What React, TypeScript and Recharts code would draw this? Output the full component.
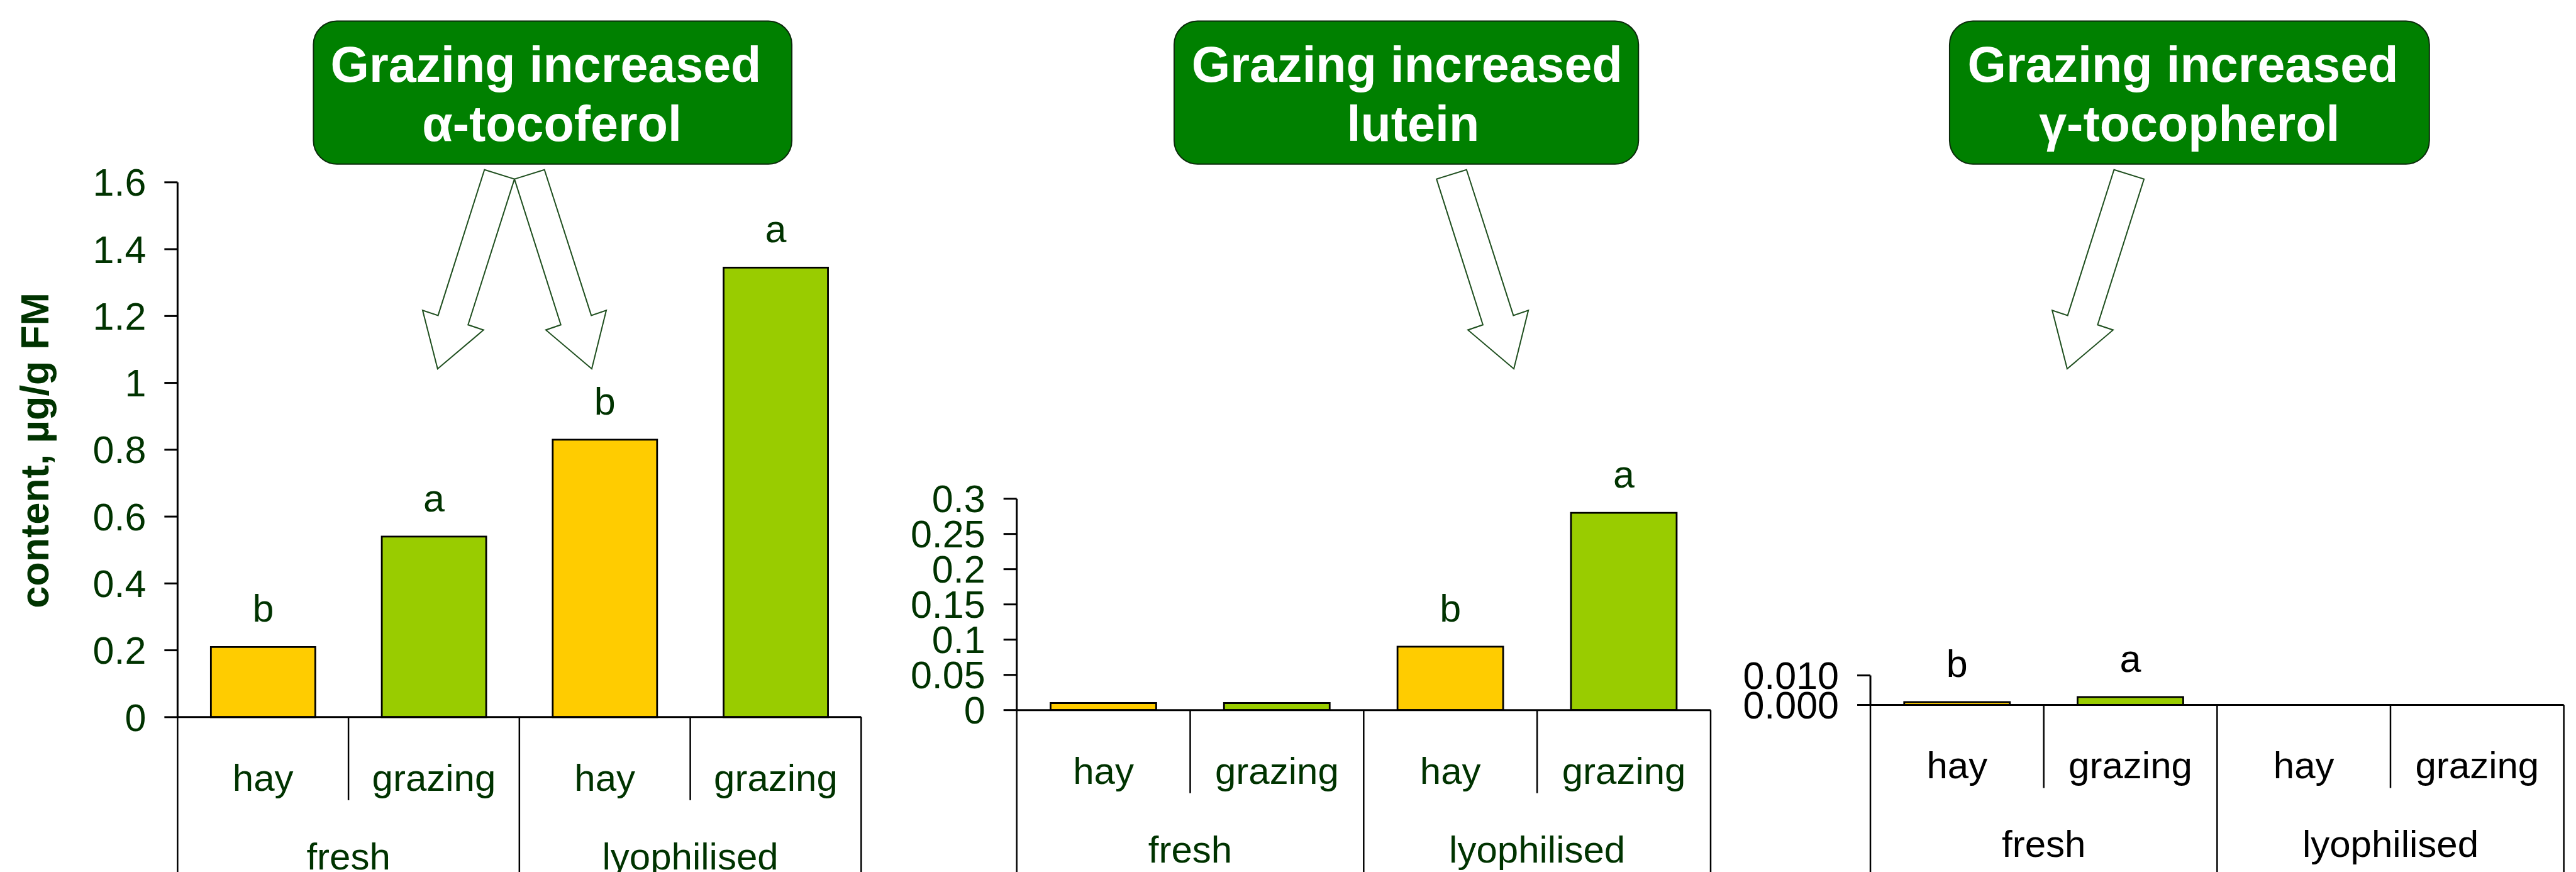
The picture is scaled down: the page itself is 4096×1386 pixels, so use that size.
import React from 'react'
import { BarChart, Bar, XAxis, YAxis, LabelList, Cell } from 'recharts'

// ── Data ──────────────────────────────────────────────────────────────────────

const treatments = ['hay', 'grazing', 'hay', 'grazing']
const states = ['fresh', 'fresh', 'lyophilised', 'lyophilised']

const tocoferolValues = [0.21, 0.54, 0.83, 1.345]
const tocoferolLetters = ['b', 'a', 'b', 'a']
const tocoferolTicks = [0, 0.2, 0.4, 0.6, 0.8, 1, 1.2, 1.4, 1.6]

const luteinValues = [0.01, 0.01, 0.09, 0.28]
const luteinLetters = ['', '', 'b', 'a']
const luteinTicks = [0, 0.05, 0.1, 0.15, 0.2, 0.25, 0.3]

const gammaValues = [0.001, 0.0027, null, null]
const gammaLetters = ['b', 'a', '', '']
const gammaTicks = [0, 0.01]

const titleLines = [
  ['Grazing increased', 'α-tocoferol'],
  ['Grazing increased', 'lutein'],
  ['Grazing increased', 'γ-tocopherol'],
]
const yLabel = 'content, µg/g FM'

const treatmentColors: Record<string, string> = { hay: '#ffcc00', grazing: '#99cc00' }

// ── Layout (reference pixels, drawn at S) ─────────────────────────────────────

const S = 0.745
const W = 4096
const H = 1386
const FONT = '"Liberation Sans", Arial, Helvetica, sans-serif'
const DARK = '#003300'
const CAT_H = 130
const GRP_H = 116

interface Frame {
  left: number; width: number; axisW: number
  plotLeft: number; plotRight: number; plotTop: number; zeroY: number
}

const frames: Frame[] = [
  { left: 0, width: 1400, axisW: 180, plotLeft: 379, plotRight: 1838, plotTop: 389, zeroY: 1530 },
  { left: 1420, width: 1330, axisW: 180, plotLeft: 2170, plotRight: 3651, plotTop: 1064, zeroY: 1515 },
  { left: 2750, width: 1346, axisW: 200, plotLeft: 3992, plotRight: 5472, plotTop: 1441, zeroY: 1504 },
]

const boxes = [
  { x0: 669, x1: 1690, c1: 1165, c2: 1178 },
  { x0: 2506, x1: 3497, c1: 3003, c2: 3016 },
  { x0: 4161, x1: 5185, c1: 4659, c2: 4673 },
]

const arrowLeft = [[1034, 362], [1098, 382], [999, 693], [1032, 704], [934, 787], [902, 662], [935, 673]]
const arrowRight = [[1098, 382], [1162, 362], [1262, 673], [1294, 662], [1263, 787], [1165, 704], [1197, 693]]
const arrows = [
  { pts: arrowLeft, dx: 0 },
  { pts: arrowRight, dx: 0 },
  { pts: arrowRight, dx: 1968 },
  { pts: arrowLeft, dx: 3478 },
]

function makeRows(values: (number | null)[], letters: string[]) {
  return treatments.map((t, i) => ({
    key: `${states[i]}-${t}`,
    treatment: t,
    state: states[i],
    value: values[i],
    letter: letters[i],
  }))
}

// ── Panel ─────────────────────────────────────────────────────────────────────

interface PanelProps {
  rows: ReturnType<typeof makeRows>
  ticks: number[]
  fmt?: (v: number) => string
  color: string
  f: Frame
}

function Panel({ rows, ticks, fmt, color, f }: PanelProps) {
  const plotLeft = f.plotLeft * S - f.left
  const plotRight = f.plotRight * S - f.left
  const top = f.plotTop * S
  const zero = f.zeroY * S
  const half = (plotRight - plotLeft) / 8
  const margin = {
    top,
    left: plotLeft - f.axisW,
    right: f.width - plotRight,
    bottom: H - zero - CAT_H - GRP_H,
  }

  const catTick = (p: any) => {
    const i = p.index ?? p.payload?.index ?? 0
    const { x, y } = p
    return (
      <g>
        <text x={x} y={y + 117} textAnchor="middle" fill={color} fontSize={60} fontFamily={FONT}>
          {rows[i].treatment}
        </text>
        {i === 0 && (
          <line x1={x - half} x2={x - half} y1={y} y2={y + 300} stroke="#000" strokeWidth={2.5} />
        )}
        <line x1={x + half} x2={x + half} y1={y} y2={i % 2 === 1 ? y + 300 : y + 132} stroke="#000" strokeWidth={2.5} />
      </g>
    )
  }

  const groupTick = (p: any) => (
    <text x={p.x} y={p.y + 242 - CAT_H} textAnchor="middle" fill={color} fontSize={60} fontFamily={FONT}>
      {p.payload.value}
    </text>
  )

  return (
    <div style={{ position: 'absolute', left: f.left, top: 0, width: f.width, height: H }}>
      <BarChart width={f.width} height={H} data={rows} margin={margin} barCategoryGap="19.5%">
        <XAxis
          xAxisId="cat"
          dataKey="key"
          interval={0}
          height={CAT_H}
          tickSize={0}
          tickMargin={0}
          tickLine={false}
          axisLine={{ stroke: '#000', strokeWidth: 3 }}
          tick={catTick}
        />
        <XAxis
          xAxisId="grp"
          dataKey="state"
          allowDuplicatedCategory={false}
          interval={0}
          height={GRP_H}
          tickSize={0}
          tickMargin={0}
          tickLine={false}
          axisLine={false}
          tick={groupTick}
        />
        <YAxis
          width={f.axisW}
          domain={[0, ticks[ticks.length - 1]]}
          ticks={ticks}
          interval={0}
          tickFormatter={fmt}
          tickSize={21}
          tickMargin={29}
          axisLine={{ stroke: '#000', strokeWidth: 3 }}
          tickLine={{ stroke: '#000', strokeWidth: 3 }}
          tick={{ fill: color, fontSize: 61, fontFamily: FONT }}
        />
        <Bar dataKey="value" xAxisId="cat" stroke="#000" strokeWidth={2.8} isAnimationActive={false}>
          {rows.map(r => (
            <Cell key={r.key} fill={treatmentColors[r.treatment]} />
          ))}
          <LabelList dataKey="letter" position="top" offset={40} fill={color} fontSize={61} fontFamily={FONT} />
        </Bar>
      </BarChart>
    </div>
  )
}

// ── App ───────────────────────────────────────────────────────────────────────

export default function App() {
  return (
    <div style={{ position: 'absolute', left: 0, top: 0, width: W, height: H, background: '#fff', overflow: 'hidden' }}>
      <Panel rows={makeRows(tocoferolValues, tocoferolLetters)} ticks={tocoferolTicks} color={DARK} f={frames[0]} />
      <Panel rows={makeRows(luteinValues, luteinLetters)} ticks={luteinTicks} color={DARK} f={frames[1]} />
      <Panel
        rows={makeRows(gammaValues, gammaLetters)}
        ticks={gammaTicks}
        fmt={(v: number) => v.toFixed(3)}
        color="#000"
        f={frames[2]}
      />
      <svg width={W} height={H} style={{ position: 'absolute', left: 0, top: 0, pointerEvents: 'none' }}>
        {boxes.map((b, i) => (
          <g key={i}>
            <rect
              x={b.x0 * S} y={45 * S} width={(b.x1 - b.x0) * S} height={305 * S}
              rx={50 * S} ry={50 * S} fill="#008000" stroke="#0b2a0b" strokeWidth={2}
            />
            <text x={b.c1 * S} y={174 * S} textAnchor="middle" fill="#fff" fontSize={79} fontWeight="bold" fontFamily={FONT}>
              {titleLines[i][0]}
            </text>
            <text x={b.c2 * S} y={301 * S} textAnchor="middle" fill="#fff" fontSize={79} fontWeight="bold" fontFamily={FONT}>
              {titleLines[i][1]}
            </text>
          </g>
        ))}
        {arrows.map((a, i) => (
          <polygon
            key={i}
            points={a.pts.map(([x, y]) => `${(x + a.dx) * S},${y * S}`).join(' ')}
            fill="#fff" stroke="#1f4f1f" strokeWidth={2}
          />
        ))}
        <text
          x={103 * S} y={961 * S} transform={`rotate(-90 ${103 * S} ${961 * S})`}
          textAnchor="middle" fill={DARK} fontSize={63} fontWeight="bold" fontFamily={FONT}
        >
          {yLabel}
        </text>
      </svg>
    </div>
  )
}
